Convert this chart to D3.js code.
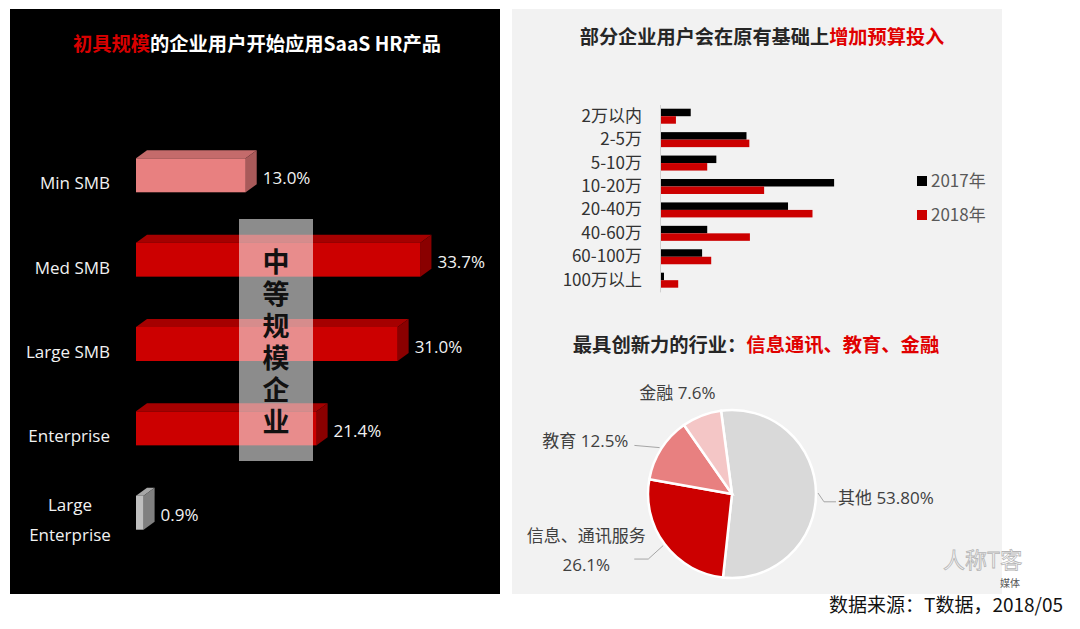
<!DOCTYPE html>
<html>
<head>
<meta charset="utf-8">
<script src="https://cdn.jsdelivr.net/npm/d3@7"></script>
<style>
  body { margin: 0; background: #fff; }
  svg { display: block; }
  text { font-family: "Open Sans", "Noto Sans CJK SC", sans-serif; }
  .cjk { font-family: "Noto Sans CJK SC", sans-serif; }
</style>
</head>
<body>
<div id="chart"></div>
<script>
// left: share of company size using SaaS HR
const sizeCats = ["Min SMB", "Med SMB", "Large SMB", "Enterprise", "Large Enterprise"];
const sizeShare = [13.0, 33.7, 31.0, 21.4, 0.9];

// right top: budget range, 2017 vs 2018
const budgetCats = ["2万以内", "2-5万", "5-10万", "10-20万", "20-40万", "40-60万", "60-100万", "100万以上"];
const budgetYears = ["2017年", "2018年"];
const budget2017 = [5.4, 15.2, 9.9, 30.6, 22.5, 8.3, 7.4, 0.7];
const budget2018 = [2.8, 15.7, 8.3, 18.3, 26.8, 15.8, 9.0, 3.2];

// right bottom: most innovative industries
const industries = ["其他", "信息、通讯服务", "教育", "金融"];
const industryShare = [53.8, 26.1, 12.5, 7.6];
const industryLabels = [["其他 53.80%"], ["信息、通讯服务", "26.1%"], ["教育 12.5%"], ["金融 7.6%"]];

const W = 1080, H = 629;
const svg = d3.select("#chart").append("svg")
    .attr("width", W)
    .attr("height", H);

svg.append("rect").attr("width", W).attr("height", H).attr("fill", "#fff");
svg.append("rect").attr("x", 10).attr("y", 9).attr("width", 490).attr("height", 585).attr("fill", "#000");
svg.append("rect").attr("x", 512).attr("y", 9).attr("width", 490).attr("height", 585).attr("fill", "#f2f2f2");

// ---------- left panel ----------
var t1 = svg.append("text").attr("class", "cjk")
    .attr("x", 257).attr("y", 51)
    .attr("text-anchor", "middle")
    .style("font-size", "19.3px").style("font-weight", 700);
t1.append("tspan").attr("fill", "#d80000").text("初具规模");
t1.append("tspan").attr("fill", "#fff").text("的企业用户开始应用SaaS HR产品");

const x = d3.scaleLinear().domain([0, 35]).range([136, 136 + 35 * 8.44]);
const y = d3.scaleBand().domain(sizeCats).range([133, 555]).paddingInner(0.597).paddingOuter(0.3);

function faces(c) {
    if (c == "Min SMB") return {front: "#e88080", top: "#c46b6b", side: "#a95a5a"};
    if (c == "Large Enterprise") return {front: "#bfbfbf", top: "#a6a6a6", side: "#808080"};
    return {front: "#cc0000", top: "#a50000", side: "#8a0000"};
}

const dx = 11, dy = 8;
var bars = svg.append("g")
    .selectAll(".bar3d")
    .data(sizeCats.map((c, i) => ({cat: c, val: sizeShare[i]})))
    .enter().append("g")
    .attr("class", "bar3d");

bars.append("path")
    .attr("fill", d => faces(d.cat).top)
    .attr("d", function (d) {
        let x0 = x(0), x1 = x(d.val), y0 = y(d.cat);
        return "M" + x0 + "," + y0 + "L" + (x0 + dx) + "," + (y0 - dy) +
            "L" + (x1 + dx) + "," + (y0 - dy) + "L" + x1 + "," + y0 + "Z";
    });
bars.append("path")
    .attr("fill", d => faces(d.cat).side)
    .attr("d", function (d) {
        let x1 = x(d.val), y0 = y(d.cat), y1 = y0 + y.bandwidth();
        return "M" + x1 + "," + y0 + "L" + (x1 + dx) + "," + (y0 - dy) +
            "L" + (x1 + dx) + "," + (y1 - dy) + "L" + x1 + "," + y1 + "Z";
    });
bars.append("rect")
    .attr("fill", d => faces(d.cat).front)
    .attr("x", x(0))
    .attr("y", d => y(d.cat))
    .attr("width", d => x(d.val) - x(0))
    .attr("height", y.bandwidth());

bars.append("text")
    .attr("x", d => x(d.val) + 17)
    .attr("y", d => y(d.cat) + y.bandwidth() / 2 + 8.5)
    .attr("fill", "#f2f2f2")
    .style("font-size", "17px")
    .text(d => d.val.toFixed(1) + "%");

// category labels
bars.each(function (d) {
    let g = d3.select(this);
    let cy = y(d.cat) + y.bandwidth() / 2;
    if (d.cat.length > 10) {
        d.cat.split(" ").forEach(function (w, k) {
            g.append("text")
                .attr("x", 70).attr("y", cy - 1.5 + k * 29.5)
                .attr("text-anchor", "middle")
                .attr("fill", "#f2f2f2")
                .style("font-size", "17px")
                .text(w);
        });
    } else {
        g.append("text")
            .attr("x", 110).attr("y", cy + 14)
            .attr("text-anchor", "end")
            .attr("fill", "#f2f2f2")
            .style("font-size", "17px")
            .text(d.cat);
    }
});

// annotation box with vertical text
svg.append("rect")
    .attr("x", 239).attr("y", 219).attr("width", 74).attr("height", 242)
    .attr("fill", "#fff").attr("fill-opacity", 0.55);
svg.append("text")
    .attr("class", "cjk")
    .attr("x", 276).attr("y", 248)
    .style("writing-mode", "vertical-rl")
    .style("letter-spacing", "5px")
    .attr("fill", "#111")
    .style("font-size", "27px").style("font-weight", 700)
    .text("中等规模企业");

// ---------- right top ----------
var t2 = svg.append("text").attr("class", "cjk")
    .attr("x", 762).attr("y", 44)
    .attr("text-anchor", "middle")
    .style("font-size", "19.2px").style("font-weight", 700);
t2.append("tspan").attr("fill", "#262626").text("部分企业用户会在原有基础上");
t2.append("tspan").attr("fill", "#e00000").text("增加预算投入");

const bx = d3.scaleLinear().domain([0, 35]).range([660, 660 + 35 * 5.69]);
const by = d3.scaleBand().domain(budgetCats).range([104.5, 291.9]).paddingInner(0.36).paddingOuter(0.18);
const byr = d3.scaleBand().domain(budgetYears).range([0, by.bandwidth()]);
const yearColor = d3.scaleOrdinal().domain(budgetYears).range(["#000", "#cc0000"]);

var budgetRows = [];
budgetCats.forEach(function (c, i) {
    budgetRows.push({cat: c, year: budgetYears[0], val: budget2017[i]});
    budgetRows.push({cat: c, year: budgetYears[1], val: budget2018[i]});
});

svg.append("g")
    .selectAll("rect")
    .data(budgetRows)
    .enter().append("rect")
    .attr("x", bx(0))
    .attr("y", d => by(d.cat) + byr(d.year))
    .attr("width", d => bx(d.val) - bx(0))
    .attr("height", byr.bandwidth())
    .attr("fill", d => yearColor(d.year));

var ax = svg.append("g")
    .attr("transform", "translate(" + bx(0) + ",0)")
    .call(d3.axisLeft(by).tickSize(0).tickSizeOuter(0).tickPadding(18));
ax.select(".domain").attr("stroke", "#d0d0d0");
ax.selectAll("text")
    .attr("fill", "#333")
    .style("font-family", "'Noto Sans CJK SC', sans-serif")
    .style("font-size", "17px");

var legend = svg.append("g")
    .selectAll("g")
    .data(budgetYears)
    .enter().append("g")
    .attr("transform", (d, i) => "translate(917," + (176 + i * 34) + ")");
legend.append("rect").attr("width", 10).attr("height", 10).attr("fill", d => yearColor(d));
legend.append("text")
    .attr("class", "cjk")
    .attr("x", 14).attr("y", 11)
    .attr("fill", "#595959")
    .style("font-size", "17px")
    .text(d => d);

// ---------- right bottom: pie ----------
var t3 = svg.append("text").attr("class", "cjk")
    .attr("x", 756).attr("y", 352)
    .attr("text-anchor", "middle")
    .style("font-size", "19.3px").style("font-weight", 700);
t3.append("tspan").attr("fill", "#262626").text("最具创新力的行业：");
t3.append("tspan").attr("fill", "#e00000").text("信息通讯、教育、金融");

const pieColor = d3.scaleOrdinal().domain(industries).range(["#d9d9d9", "#cc0000", "#e88080", "#f4c6c6"]);
const rot = -7.5 * Math.PI / 180;
const pie = d3.pie().sort(null).startAngle(rot).endAngle(2 * Math.PI + rot);
const arcs = pie(industryShare);
const arc = d3.arc().innerRadius(0).outerRadius(84);
const edgeArc = d3.arc().innerRadius(86).outerRadius(86);
const labelArc = d3.arc().innerRadius(104).outerRadius(104);

var pg = svg.append("g").attr("transform", "translate(732,494)");
pg.selectAll("path.slice")
    .data(arcs)
    .enter().append("path")
    .attr("class", "slice")
    .attr("d", arc)
    .attr("fill", (d, i) => pieColor(industries[i]))
    .attr("stroke", "#fff")
    .attr("stroke-width", 2.5);

// label placement tweaks relative to outer label point
const tweak = [
    {anchor: "start", tx: 2, ty: 11, lead: [[6, 9], [0, 9]]},
    {anchor: "middle", tx: -62.5, ty: -14, lead: [[-0.5, 2.7], [-14.5, 2.7]]},
    {anchor: "end", tx: -16, ty: 9, lead: [[-10, 7.5]]},
    {anchor: "middle", tx: -17, ty: 2, lead: null}
];

arcs.forEach(function (a, i) {
    let p = labelArc.centroid(a), e = edgeArc.centroid(a), t = tweak[i];
    if (t.lead) {
        let pts = [e];
        t.lead.forEach(function (o, k) {
            if (i == 0 && k == 0) pts.push([e[0] + o[0], p[1] + o[1]]);
            else pts.push([p[0] + o[0], p[1] + o[1]]);
        });
        pg.append("path")
            .attr("d", d3.line()(pts))
            .attr("fill", "none")
            .attr("stroke", "#a6a6a6")
            .attr("stroke-width", 1);
    }
    industryLabels[i].forEach(function (s, k) {
        pg.append("text")
            .attr("x", p[0] + t.tx)
            .attr("y", p[1] + t.ty + k * 28.4)
            .attr("text-anchor", t.anchor)
            .attr("fill", "#404040")
            .style("font-size", "17px")
            .text(s);
    });
});

// watermark + source
svg.append("text").attr("class", "cjk")
    .attr("x", 943).attr("y", 568)
    .attr("fill", "none").attr("stroke", "#b5b5b5").attr("stroke-width", 0.8)
    .style("font-size", "22px")
    .text("人称T客");
svg.append("text").attr("class", "cjk")
    .attr("x", 1000).attr("y", 587)
    .attr("fill", "#555")
    .style("font-size", "10px")
    .text("媒体");

svg.append("text").attr("class", "cjk")
    .attr("x", 829).attr("y", 612)
    .attr("fill", "#111")
    .style("font-size", "19px")
    .text("数据来源：T数据，2018/05");
</script>
</body>
</html>
